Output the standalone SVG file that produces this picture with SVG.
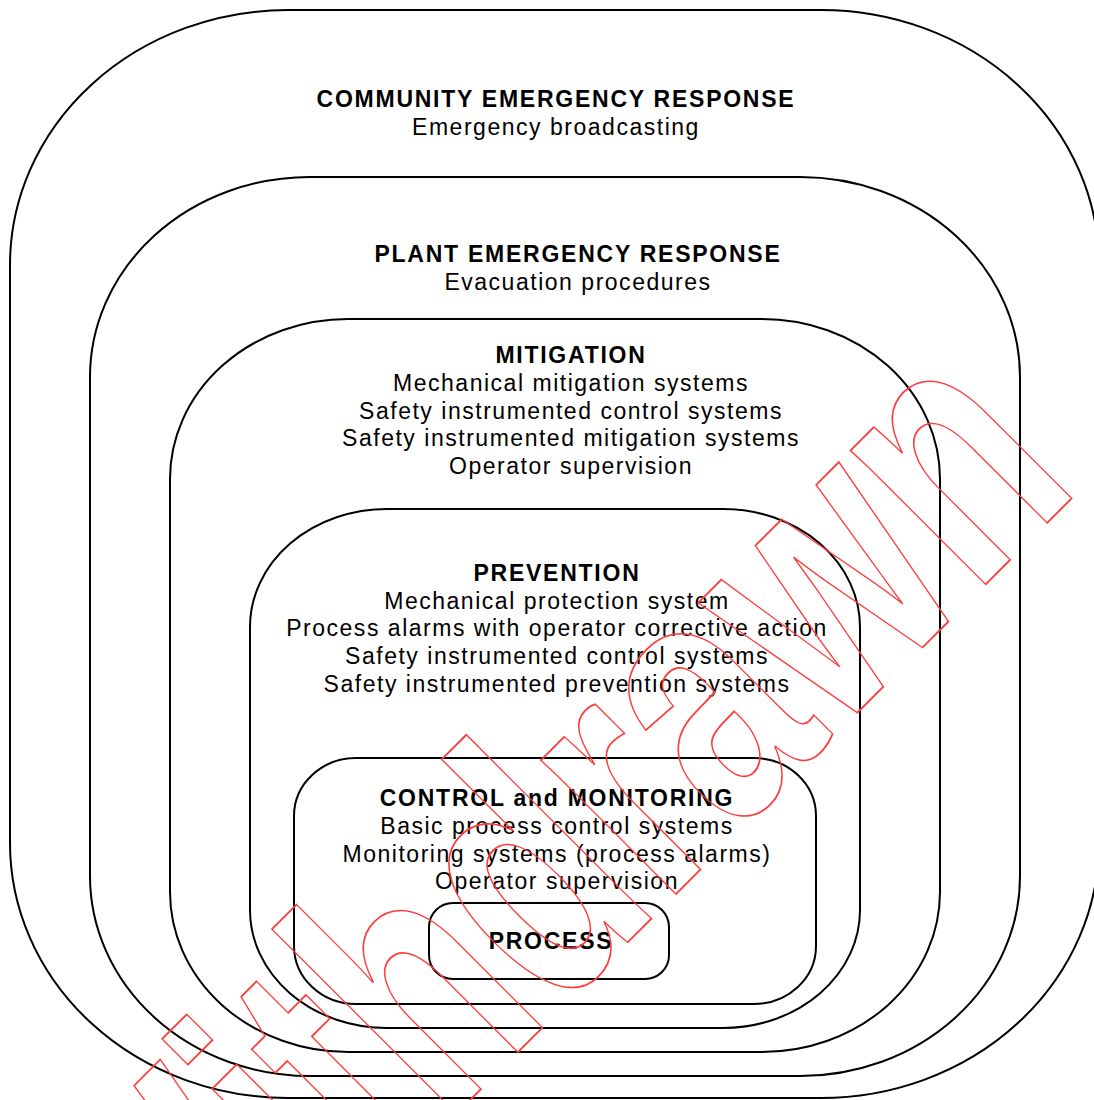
<svg xmlns="http://www.w3.org/2000/svg" width="1094" height="1100" viewBox="0 0 1094 1100">
<style>
.box{fill:none;stroke:#000;stroke-width:2}
.t{font-family:"Liberation Sans",Arial,sans-serif;font-size:23px;letter-spacing:1.52px;text-anchor:middle;fill:#000}
.b{font-weight:bold;letter-spacing:1.75px}
.wm{font-family:"Liberation Sans",Arial,sans-serif;font-size:360px;font-weight:bold;fill:none;stroke:#ff3c3c;stroke-width:1.6}
</style>
<rect width="1094" height="1100" fill="#fff"/>
<g id="community">
<rect class="box" x="10" y="10" width="1089" height="1088" rx="278" ry="255"/>
<text class="t b" x="556" y="107">COMMUNITY EMERGENCY RESPONSE</text>
<text class="t" x="556" y="135">Emergency broadcasting</text>
</g>
<g id="plant">
<rect class="box" x="90" y="177" width="930" height="899" rx="220" ry="200"/>
<text class="t b" x="578" y="262">PLANT EMERGENCY RESPONSE</text>
<text class="t" x="578" y="290">Evacuation procedures</text>
</g>
<g id="mitigation">
<rect class="box" x="170" y="319" width="770" height="733" rx="178" ry="160"/>
<text class="t b" x="571" y="363">MITIGATION</text>
<text class="t" x="571" y="391">Mechanical mitigation systems</text>
<text class="t" x="571" y="419">Safety instrumented control systems</text>
<text class="t" x="571" y="446">Safety instrumented mitigation systems</text>
<text class="t" x="571" y="474">Operator supervision</text>
</g>
<g id="prevention">
<rect class="box" x="250" y="509" width="610" height="519" rx="137" ry="118"/>
<text class="t b" x="557" y="581">PREVENTION</text>
<text class="t" x="557" y="609">Mechanical protection system</text>
<text class="t" x="557" y="636">Process alarms with operator corrective action</text>
<text class="t" x="557" y="664">Safety instrumented control systems</text>
<text class="t" x="557" y="692">Safety instrumented prevention systems</text>
</g>
<g id="control">
<rect class="box" x="294" y="758" width="522" height="246" rx="62" ry="58"/>
<text class="t b" x="557" y="806">CONTROL and MONITORING</text>
<text class="t" x="557" y="834">Basic process control systems</text>
<text class="t" x="557" y="862">Monitoring systems (process alarms)</text>
<text class="t" x="557" y="889">Operator supervision</text>
</g>
<g id="process">
<rect class="box" x="429" y="903" width="240" height="76" rx="24" ry="24"/>
<text class="t b" x="551" y="949">PROCESS</text>
</g>
<g id="connectors"/>
<g id="watermark">
<text class="wm" transform="translate(166,1404) rotate(-45) scale(0.706,1)" vector-effect="non-scaling-stroke">Withdrawn</text>
</g>
</svg>
